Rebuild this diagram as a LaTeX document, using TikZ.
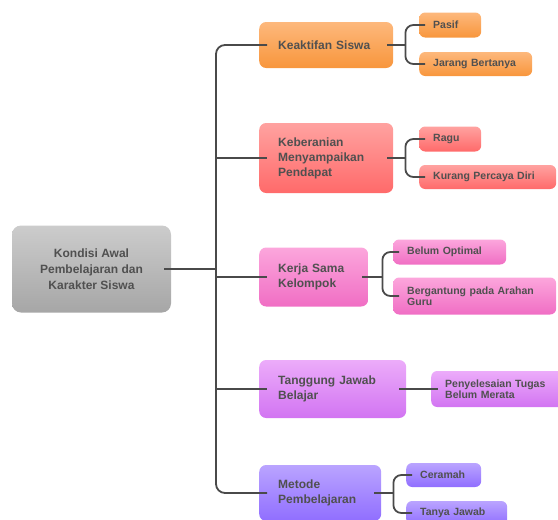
\documentclass[tikz,border=0pt]{standalone}
\usepackage{fontspec}
\setmainfont{Liberation Sans}
\usepackage{tikz}
\definecolor{lineGray}{RGB}{74, 74, 74}
\definecolor{textGray}{RGB}{80, 80, 80}
\definecolor{grayTop}{RGB}{204, 204, 204}
\definecolor{grayBot}{RGB}{166, 166, 166}
\definecolor{orangeTop}{RGB}{253, 184, 124}
\definecolor{orangeBot}{RGB}{248, 150, 60}
\definecolor{redTop}{RGB}{255, 162, 160}
\definecolor{redBot}{RGB}{255, 106, 106}
\definecolor{pinkTop}{RGB}{252, 166, 220}
\definecolor{pinkBot}{RGB}{240, 110, 196}
\definecolor{purpleTop}{RGB}{236, 172, 250}
\definecolor{purpleBot}{RGB}{210, 116, 242}
\definecolor{violetTop}{RGB}{186, 164, 255}
\definecolor{violetBot}{RGB}{144, 110, 255}

\tikzset{
  link/.style={draw=lineGray, line width=1.8pt, rounded corners=9pt},
  mainbox/.style={anchor=west, rounded corners=7pt, top color=#1Top, bottom color=#1Bot,
    draw=none, inner xsep=19pt, inner ysep=0pt, align=left, text=textGray,
    font=\bfseries\fontsize{12}{15}\selectfont},
  leafbox/.style={anchor=west, rounded corners=6pt, top color=#1Top, bottom color=#1Bot,
    draw=none, inner xsep=14pt, inner ysep=0pt, align=left, text=textGray,
    font=\bfseries\fontsize{10.5}{11.5}\selectfont}
}

\begin{document}
\begin{tikzpicture}[x=1pt, y=-1pt]
        \clip (0,0) rectangle (558,520);
        % root
        \node[rounded corners=9pt, top color=grayTop, bottom color=grayBot, text=textGray,
          minimum width=159pt, minimum height=87pt, align=center,
          font=\bfseries\fontsize{12}{16}\selectfont] (root) at (91.5,269)
          {Kondisi Awal\\Pembelajaran dan\\Karakter Siswa};
        % main branches
        \node[mainbox=orange, text width=96pt, minimum height=46pt] (keak) at (259,45) {Keaktifan Siswa};
        \node[mainbox=red, text width=96pt, minimum height=70pt] (kebe) at (259,158) {Keberanian\\Menyampaikan\\Pendapat};
        \node[mainbox=pink, text width=71pt, minimum height=59pt] (kerja) at (259,277) {Kerja Sama\\Kelompok};
        \node[mainbox=purple, text width=109pt, minimum height=58pt] (tangg) at (259,389) {Tanggung Jawab\\Belajar};
        \node[mainbox=violet, text width=84pt, minimum height=56pt] (metode) at (259,493) {Metode\\Pembelajaran};
        % leaves
        \node[leafbox=orange, text width=34pt, minimum height=25pt] (pasif) at (419,25) {Pasif};
        \node[leafbox=orange, text width=85pt, minimum height=24pt] (jarang) at (419,64) {Jarang Bertanya};
        \node[leafbox=red, text width=34pt, minimum height=25pt] (ragu) at (419,139) {Ragu};
        \node[leafbox=red, text width=109pt, minimum height=24pt] (kurang) at (419,177) {Kurang Percaya Diri};
        \node[leafbox=pink, text width=85pt, minimum height=25pt] (belum) at (393,252) {Belum Optimal};
        \node[leafbox=pink, text width=135pt, minimum height=37pt] (berg) at (393,296) {Bergantung pada Arahan\\Guru};
        \node[leafbox=purple, text width=110pt, minimum height=36pt] (peny) at (431,389) {Penyelesaian Tugas\\Belum Merata};
        \node[leafbox=violet, text width=47pt, minimum height=24pt] (ceramah) at (406,475) {Ceramah};
        \node[leafbox=violet, text width=73pt, minimum height=24pt] (tanya) at (406,513) {Tanya Jawab};
        % trunk
        \coordinate (trunk) at (216,0);
        \draw[link] ([xshift=8pt]keak.west) -| ([xshift=-43pt]metode.west) -- ([xshift=8pt]metode.west);
        \draw[link] ([xshift=-7pt]root.east) -- (root.east -| trunk);
        \draw[link] (kebe.west -| trunk) -- ([xshift=8pt]kebe.west);
        \draw[link] (kerja.west -| trunk) -- ([xshift=8pt]kerja.west);
        \draw[link] (tangg.west -| trunk) -- ([xshift=8pt]tangg.west);
        % forks
        \draw[link] ([xshift=-6pt]keak.east) -- ([xshift=12pt]keak.east);
        \draw[link, rounded corners=8pt] ([xshift=6pt]pasif.west) -| ([xshift=12pt]keak.east) |- ([xshift=6pt]jarang.west);
        \draw[link] ([xshift=-6pt]kebe.east) -- ([xshift=12pt]kebe.east);
        \draw[link, rounded corners=8pt] ([xshift=6pt]ragu.west) -| ([xshift=12pt]kebe.east) |- ([xshift=6pt]kurang.west);
        \draw[link] ([xshift=-6pt]kerja.east) -- ([xshift=14pt]kerja.east);
        \draw[link, rounded corners=8pt] ([xshift=6pt]belum.west) -| ([xshift=14pt]kerja.east) |- ([xshift=6pt]berg.west);
        \draw[link] ([xshift=-7pt]tangg.east) -- ([xshift=7pt]peny.west);
        \draw[link] ([xshift=-7pt]metode.east) -- ([xshift=12pt]metode.east);
        \draw[link, rounded corners=8pt] ([xshift=6pt]ceramah.west) -| ([xshift=12pt]metode.east) |- ([xshift=6pt]tanya.west);
      \end{tikzpicture}
\end{document}
